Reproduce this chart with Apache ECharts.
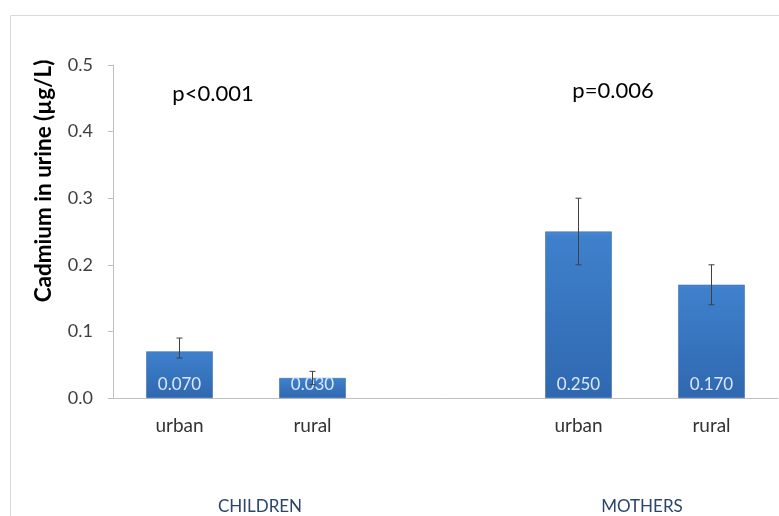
<!DOCTYPE html>
<html><head><meta charset="utf-8">
<script src="https://cdn.jsdelivr.net/npm/echarts@6/dist/echarts.min.js"></script>
<style>html,body{margin:0;padding:0;background:#fff}#c{width:779px;height:516px}</style>
</head><body><div id="c"></div>
<script>
const categories = ['urban', 'rural', '', 'urban', 'rural'];
const means = [0.070, 0.030, null, 0.250, 0.170];
const errLow = [0.060, 0.020, null, 0.200, 0.140];
const errHigh = [0.090, 0.040, null, 0.300, 0.200];
const valueLabels = ['0.070', '0.030', '', '0.250', '0.170'];
const groupLabels = ['CHILDREN', 'MOTHERS'];
const pValues = ['p<0.001', 'p=0.006'];
const yTitle = 'Cadmium in urine (\u00b5g/L)';

const FONT = 'Lato, "Open Sans", sans-serif';
const chart = echarts.init(document.getElementById('c'));
const errData = categories.map((c, i) => [i, errLow[i], errHigh[i]]).filter(d => d[1] != null);

chart.setOption({
  animation: false,
  grid: { left: 113, right: 1, top: 65, bottom: 118 },
  xAxis: {
    type: 'category', data: categories,
    axisLine: { lineStyle: { color: '#bfbfbf', width: 1 } },
    axisTick: { show: false },
    axisLabel: { color: '#333', fontSize: 19, fontFamily: FONT, margin: 18 }
  },
  yAxis: {
    type: 'value', min: 0, max: 0.5, interval: 0.1,
    axisLine: { show: true, lineStyle: { color: '#bfbfbf' } },
    axisTick: { show: true, length: 5, lineStyle: { color: '#bfbfbf' } },
    splitLine: { show: false },
    axisLabel: { color: '#404040', fontSize: 18, fontFamily: FONT, margin: 20,
      formatter: v => v.toFixed(1) }
  },
  series: [
    {
      type: 'bar', data: means, barWidth: '50%',
      itemStyle: {
        color: new echarts.graphic.LinearGradient(0, 0, 0, 1, [
          { offset: 0, color: '#4a8ad6' }, { offset: 0.03, color: '#3f80cc' },
          { offset: 1, color: '#2f68b0' }
        ]),
        borderColor: '#2b5f9f', borderWidth: 0.5
      },
      label: {
        show: true, position: 'insideBottom', distance: 5,
        color: '#dce8f6', fontSize: 17, fontFamily: FONT,
        formatter: p => valueLabels[p.dataIndex]
      }
    },
    {
      type: 'custom', data: errData, z: 5,
      renderItem: (params, api) => {
        const x = api.value(0);
        const lo = api.coord([x, api.value(1)]);
        const hi = api.coord([x, api.value(2)]);
        const w = 3;
        const st = { stroke: '#404040', lineWidth: 1 };
        return { type: 'group', children: [
          { type: 'line', shape: { x1: lo[0], y1: lo[1], x2: hi[0], y2: hi[1] }, style: st },
          { type: 'line', shape: { x1: hi[0] - w, y1: hi[1], x2: hi[0] + w, y2: hi[1] }, style: st },
          { type: 'line', shape: { x1: lo[0] - w, y1: lo[1], x2: lo[0] + w, y2: lo[1] }, style: st }
        ]};
      }
    }
  ],
  graphic: [
    { type: 'rect', shape: { x: 10.5, y: 15.5, width: 900, height: 700 },
      style: { fill: 'none', stroke: '#d9d9d9', lineWidth: 1 }, z: -1 },
    { type: 'text', x: 44, y: 181, rotation: Math.PI / 2,
      style: { text: yTitle, fontSize: 22.5, fontWeight: 'bold', fill: '#000', fontFamily: FONT, textAlign: 'center', textVerticalAlign: 'middle' } },
    { type: 'text', x: 213, y: 94, style: { text: pValues[0], fontSize: 22, fill: '#000', fontFamily: FONT, textAlign: 'center', textVerticalAlign: 'middle' } },
    { type: 'text', x: 613, y: 91, style: { text: pValues[1], fontSize: 22, fill: '#000', fontFamily: FONT, textAlign: 'center', textVerticalAlign: 'middle' } },
    { type: 'text', x: 260, y: 507, style: { text: groupLabels[0], fontSize: 17, fill: '#2a4668', fontFamily: FONT, textAlign: 'center', textVerticalAlign: 'middle' } },
    { type: 'text', x: 642, y: 507, style: { text: groupLabels[1], fontSize: 17, fill: '#2a4668', fontFamily: FONT, textAlign: 'center', textVerticalAlign: 'middle' } }
  ]
});
</script></body></html>
